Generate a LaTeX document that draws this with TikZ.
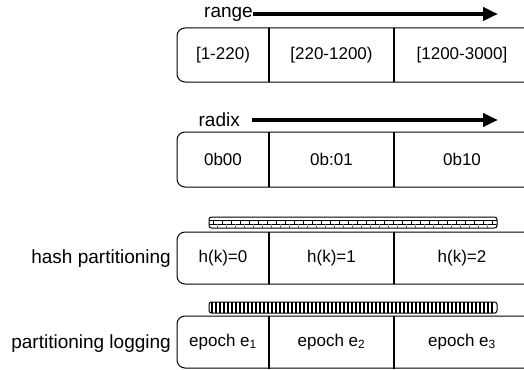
\documentclass[tikz,border=0pt]{standalone}
\usepackage{fontspec}
\setmainfont{Liberation Sans}
\usetikzlibrary{arrows.meta}
\begin{document}
\begin{tikzpicture}[x=1pt,y=-1pt,
 cellbox/.style={draw, line width=1pt, rounded corners=8pt},
 divider/.style={line width=1.3pt},
 celltext/.style={font=\fontsize{17}{20}\selectfont, inner sep=0pt},
 labeltext/.style={font=\fontsize{19}{22}\selectfont, inner sep=0pt},
 bigarrow/.style={line width=4pt, -{Triangle[length=15pt,width=13pt]}},
 barbox/.style={draw, line width=1pt, rounded corners=2.5pt}]
\useasboundingbox (0,0) rectangle (524,369);
\clip (0,0) rectangle (524,369);

% ---------- range ----------
\node[labeltext, anchor=east] (rangelab) at (253,14) {range};
\coordinate (rangeend) at (498,14);
\draw[bigarrow] (rangelab.east) -- (rangeend);
\draw[cellbox] (177,28) rectangle (545,82);
\draw[divider] (269,28) -- (269,82);
\draw[divider] (394,28) -- (394,82);
\node[celltext] (r1) at (223,55) {[1-220)};
\node[celltext] (r2) at (331.5,55) {[220-1200)};
\node[celltext] (r3) at (462,55) {[1200-3000]};

% ---------- radix ----------
\node[labeltext, anchor=east] (radixlab) at (240,120) {radix};
\coordinate (radixend) at (498,120);
\draw[bigarrow] ([xshift=12pt]radixlab.east) -- (radixend);
\draw[cellbox] (177,132) rectangle (545,187);
\draw[divider] (269,132) -- (269,187);
\draw[divider] (394,132) -- (394,187);
\node[celltext] (x1) at (223,159.5) {0b00};
\node[celltext] (x2) at (331.5,159.5) {0b:01};
\node[celltext] (x3) at (462,159.5) {0b10};

% ---------- hash partitioning ----------
\node[labeltext, anchor=east] (hashlab) at (171,259) {hash partitioning};
\draw[cellbox] (177,232) rectangle (545,284);
\draw[divider] (269,232) -- (269,284);
\draw[divider] (394,232) -- (394,284);
\node[celltext] (h1) at (223,258) {h(k)=0};
\node[celltext] (h2) at (331.5,258) {h(k)=1};
\node[celltext] (h3) at (462,258) {h(k)=2};
% brick bar
\draw[line width=0.8pt] (209,220.5) -- (497,220.5);
\draw[line width=0.8pt] (209,224) -- (497,224);
\foreach \i in {0,...,31} {
  \draw[line width=0.7pt] ({213+9*\i},220.5) -- ({213+9*\i},224);
  \draw[line width=0.6pt, gray] ({217.5+9*\i},224) -- ({217.5+9*\i},227.5);
}
\draw[barbox] (209,217) rectangle (497,228);

% ---------- partitioning logging ----------
\node[labeltext, anchor=east] (loglab) at (171,344) {partitioning logging};
\draw[cellbox] (177,316) rectangle (545,368);
\draw[divider] (269,316) -- (269,369);
\draw[divider] (394,316) -- (394,369);
\node[celltext] (e1) at (223,342) {epoch e\textsubscript{1}};
\node[celltext] (e2) at (331.5,342) {epoch e\textsubscript{2}};
\node[celltext] (e3) at (462,342) {epoch e\textsubscript{3}};
% striped bar
\foreach \i in {0,...,70} {
  \draw[line width=1.6pt] ({212+4*\i},302) -- ({212+4*\i},313);
}
\draw[barbox] (209,302) rectangle (497,313);
\end{tikzpicture}
\end{document}
